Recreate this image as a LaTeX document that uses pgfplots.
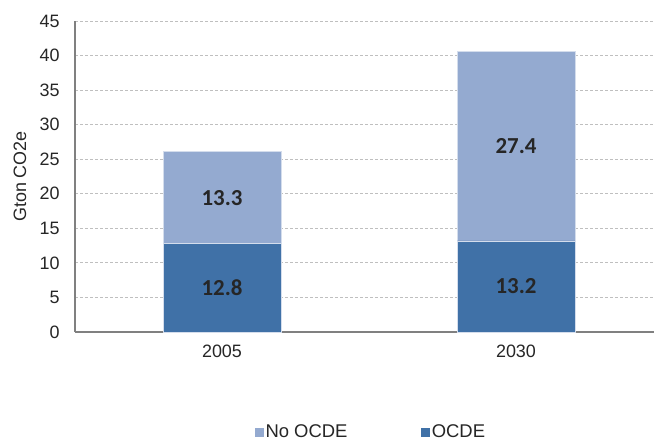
\documentclass[border=0pt]{standalone}
\usepackage{fontspec}
\setmainfont{Liberation Sans}
\newfontfamily\carlito{Carlito}
\usepackage{pgfplots}
\pgfplotsset{compat=1.18}
\definecolor{ocde}{RGB}{64,113,167}
\definecolor{noocde}{RGB}{148,170,208}
\definecolor{txt}{RGB}{38,38,38}
\tikzset{vlab/.style={font=\carlito\bfseries\fontsize{23}{26}\selectfont, text=txt}}
\begin{document}
\begin{tikzpicture}
\useasboundingbox (0,0) rectangle (654bp,440bp);
\begin{axis}[
  at={(75bp,108bp)}, anchor=south west,
  width=588bp, height=311bp, scale only axis,
  ybar stacked, bar width=0.40,
  xmin=-0.5, xmax=1.5, ymin=0, ymax=45,
  xtick={0,1}, xticklabels={2005,2030},
  ytick={0,5,...,45},
  major tick length=0pt,
  axis x line*=bottom, axis y line*=left,
  axis line style={-, draw=gray, line width=1.6bp},
  ymajorgrids, grid style={dash pattern=on 3bp off 2bp, draw=gray!50, line width=0.8bp},
  /pgf/number format/assume math mode=true,
  ticklabel style={font=\fontsize{18}{21}\selectfont, text=txt},
  yticklabel style={xshift=-12bp},
  xticklabel style={yshift=-9bp},
  ylabel={Gton CO2e},
  ylabel style={at={(axis description cs:-0.0935,0.5)}, anchor=center, font=\fontsize{18}{21}\selectfont, text=txt},
  legend columns=2,
  legend style={draw=none, at={(0.5036,-0.3215)}, anchor=center, font=\fontsize{18.5}{21}\selectfont, text=txt,
    /tikz/every even column/.append style={column sep=72bp}},
  clip=false,
]
\addplot[fill=ocde, draw=white!60!noocde, line width=0.5bp, forget plot] coordinates {(0,12.8) (1,13.2)};
\addplot[fill=noocde, draw=white!60!noocde, line width=0.5bp, forget plot] coordinates {(0,13.3) (1,27.4)};
\addlegendimage{legend image code/.code={\fill[noocde] (2bp,-4bp) rectangle (10bp,4bp);}}
\addlegendentry{No OCDE}
\addlegendimage{legend image code/.code={\fill[ocde] (2bp,-4bp) rectangle (10bp,4bp);}}
\addlegendentry{OCDE}
\coordinate (a) at (axis cs:0,6.4);
\coordinate (b) at (axis cs:1,6.6);
\coordinate (c) at (axis cs:0,19.45);
\coordinate (d) at (axis cs:1,26.9);
\end{axis}
\node[vlab] at (a) {12.8};
\node[vlab] at (b) {13.2};
\node[vlab] at (c) {13.3};
\node[vlab] at (d) {27.4};
\end{tikzpicture}
\end{document}
